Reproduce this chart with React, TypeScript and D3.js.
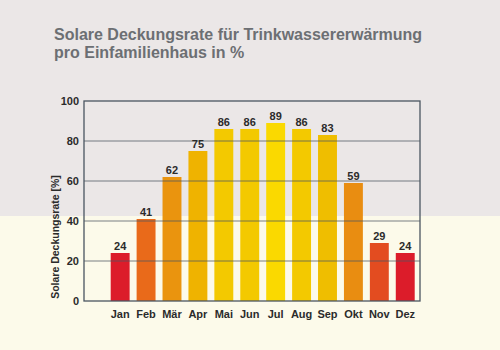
import React, { useEffect, useRef } from 'react';
import * as d3 from 'd3';

const months = ['Jan', 'Feb', 'Mär', 'Apr', 'Mai', 'Jun', 'Jul', 'Aug', 'Sep', 'Okt', 'Nov', 'Dez'];
const rates = [24, 41, 62, 75, 86, 86, 89, 86, 83, 59, 29, 24];
const yTicks = [0, 20, 40, 60, 80, 100];
const titleLines = ['Solare Deckungsrate für Trinkwassererwärmung', 'pro Einfamilienhaus in %'];
const yLabel = 'Solare Deckungsrate [%]';

const App = () => {
    const svgRef = useRef<SVGSVGElement>(null);

    useEffect(() => {
        const svg = d3.select(svgRef.current);
        svg.selectAll('*').remove();

        const width = 500;
        const height = 350;
        const font = '"Liberation Sans", Arial, sans-serif';

        // two-tone scanned page background
        svg.append('rect').attr('width', width).attr('height', 216).attr('fill', '#ebe7e7');
        svg.append('rect').attr('y', 216).attr('width', width).attr('height', height - 216).attr('fill', '#fcfaea');

        // title
        svg
            .append('g')
            .selectAll('text')
            .data(titleLines)
            .enter()
            .append('text')
            .attr('x', 54)
            .attr('y', (d, i) => 40 + i * 18)
            .text(d => d)
            .style('font-family', font)
            .style('font-weight', 'bold')
            .style('font-size', '16px')
            .attr('fill', '#6c6f73');

        // scales
        const x = d3
            .scaleBand()
            .domain(months)
            .range([107.2, 418.2])
            .paddingInner(0.27)
            .paddingOuter(0.135);

        const y = d3.scaleLinear().domain([0, 100]).range([301, 101]);

        const color = d3
            .scaleLinear<string>()
            .domain([24, 30, 42, 60, 75, 84, 89])
            .range(['#dc1c2a', '#e4561e', '#e96c1a', '#e98f10', '#efb300', '#efbf00', '#fad900'])
            .clamp(true);

        // bars
        svg
            .append('g')
            .selectAll('rect')
            .data(rates)
            .enter()
            .append('rect')
            .attr('x', (d, i) => x(months[i]))
            .attr('y', d => y(d))
            .attr('width', x.bandwidth())
            .attr('height', d => y(0) - y(d))
            .attr('fill', d => color(d));

        // grid lines (faint over the bars)
        svg
            .append('g')
            .selectAll('line')
            .data(yTicks.filter(t => t > 0 && t < 100))
            .enter()
            .append('line')
            .attr('x1', 84)
            .attr('x2', 420)
            .attr('y1', d => y(d))
            .attr('y2', d => y(d))
            .attr('stroke', '#4d5760')
            .attr('stroke-width', 1)
            .attr('opacity', 0.75);

        // frame
        svg
            .append('rect')
            .attr('x', 84)
            .attr('y', y(100))
            .attr('width', 420 - 84)
            .attr('height', y(0) - y(100))
            .attr('fill', 'none')
            .attr('stroke', '#4a5560')
            .attr('stroke-width', 1.3);

        // y tick labels
        svg
            .append('g')
            .selectAll('text')
            .data(yTicks)
            .enter()
            .append('text')
            .attr('x', 79)
            .attr('y', d => y(d))
            .attr('dy', '0.35em')
            .attr('text-anchor', 'end')
            .text(d => d)
            .style('font-family', font)
            .style('font-weight', 'bold')
            .style('font-size', '11px')
            .attr('fill', '#2b2b2b');

        // y axis title
        svg
            .append('text')
            .attr('transform', 'translate(59,237) rotate(-90)')
            .attr('text-anchor', 'middle')
            .text(yLabel)
            .style('font-family', font)
            .style('font-weight', 'bold')
            .style('font-size', '10.5px')
            .attr('fill', '#2b2b2b');

        // month labels
        svg
            .append('g')
            .selectAll('text')
            .data(months)
            .enter()
            .append('text')
            .attr('x', d => x(d) + x.bandwidth() / 2)
            .attr('y', 318)
            .attr('text-anchor', 'middle')
            .text(d => d)
            .style('font-family', font)
            .style('font-weight', 'bold')
            .style('font-size', '11px')
            .attr('fill', '#2b2b2b');

        // value labels
        svg
            .append('g')
            .selectAll('text')
            .data(rates)
            .enter()
            .append('text')
            .attr('x', (d, i) => x(months[i]) + x.bandwidth() / 2)
            .attr('y', d => y(d) - 3.5)
            .attr('text-anchor', 'middle')
            .text(d => d)
            .style('font-family', font)
            .style('font-weight', 'bold')
            .style('font-size', '11px')
            .attr('fill', '#2b2b2b');
    }, []);

    return (
        <svg
            ref={svgRef}
            width={500}
            height={350}
            style={{ position: 'absolute', left: 0, top: 0, display: 'block' }}
        ></svg>
    );
};

export default App;
